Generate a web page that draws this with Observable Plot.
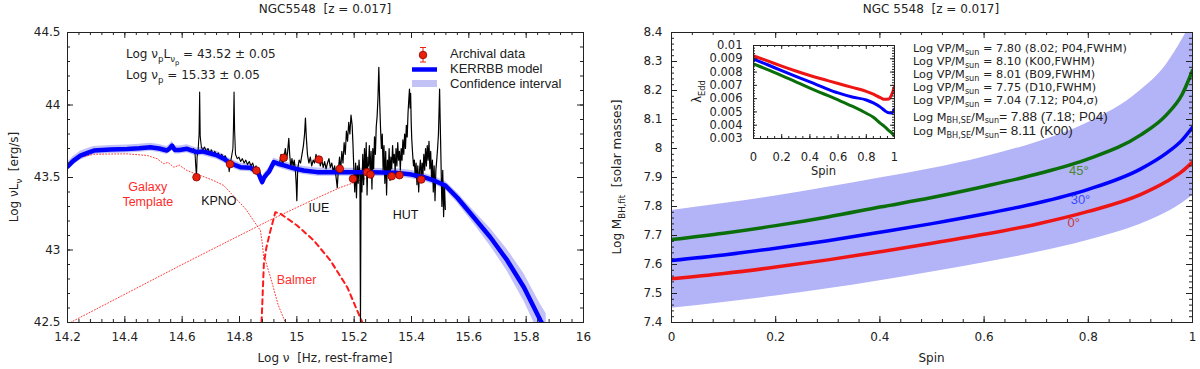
<!DOCTYPE html>
<html>
<head>
<meta charset="utf-8">
<script src="https://cdn.jsdelivr.net/npm/d3@7"></script>
<script src="https://cdn.jsdelivr.net/npm/@observablehq/plot@0.6"></script>
<style>
html,body{margin:0;padding:0;background:#fff;}
#wrap{position:relative;width:1200px;height:369px;overflow:hidden;background:#fff;}
.panel{position:absolute;top:0;}
.title{position:absolute;top:2px;font-family:"DejaVu Sans",sans-serif;font-size:12px;color:#222;white-space:pre;transform:translateX(-50%);}
svg text{white-space:pre;}
</style>
</head>
<body>
<div id="wrap"></div>
<script>
// ================= DATA =================
// Left panel: SED of NGC5548
const leftXTicks = [14.2,14.4,14.6,14.8,15,15.2,15.4,15.6,15.8,16];
const leftYTicks = [42.5,43,43.5,44,44.5];

// KERRBB model (log nu, log nuLnu) and confidence half-width
const modelV = [14.2,14.22,14.245,14.27,14.292,14.35,14.408,14.45,14.489,14.52,14.547,14.556,14.565,14.574,14.59,14.617,14.635,14.652,14.67,14.69,14.722,14.745,14.763,14.785,14.803,14.838,14.858,14.867,14.874,14.879,14.886,14.894,14.903,14.912,14.92,14.935,14.955,14.99,15.024,15.071,15.15,15.25,15.35,15.4,15.443,15.48,15.518,15.56,15.617,15.675,15.734,15.792,15.85,15.87];
const modelL = [43.575,43.615,43.651,43.67,43.686,43.693,43.697,43.702,43.709,43.70,43.686,43.70,43.72,43.69,43.69,43.698,43.685,43.675,43.68,43.67,43.652,43.63,43.606,43.585,43.571,43.567,43.545,43.526,43.49,43.468,43.50,43.52,43.54,43.575,43.606,43.595,43.583,43.563,43.548,43.537,43.536,43.536,43.532,43.52,43.502,43.478,43.445,43.36,43.226,43.088,42.928,42.743,42.514,42.44];
const modelErr = [0.03,0.03,0.03,0.03,0.028,0.028,0.028,0.028,0.028,0.028,0.028,0.028,0.028,0.028,0.028,0.028,0.028,0.028,0.028,0.028,0.028,0.028,0.028,0.028,0.028,0.028,0.028,0.028,0.028,0.028,0.028,0.028,0.028,0.028,0.028,0.028,0.028,0.028,0.028,0.028,0.028,0.028,0.028,0.028,0.028,0.028,0.03,0.035,0.045,0.06,0.075,0.095,0.11,0.12];

// Archival photometry
const archV = [14.65,14.767,14.859,14.954,15.077,15.15,15.196,15.245,15.257,15.331,15.358,15.434];
const archL = [43.502,43.592,43.548,43.636,43.624,43.56,43.491,43.537,43.521,43.509,43.516,43.486];
const archErr = [0.012,0.012,0.012,0.012,0.012,0.012,0.012,0.012,0.012,0.012,0.012,0.012];

// Galaxy template (dotted)
const galaxyTpl = [[14.2,43.57],[14.245,43.64],[14.292,43.66],[14.35,43.662],[14.408,43.663],[14.478,43.652],[14.513,43.629],[14.536,43.594],[14.55,43.605],[14.571,43.571],[14.59,43.585],[14.617,43.548],[14.64,43.53],[14.664,43.514],[14.71,43.479],[14.745,43.445],[14.785,43.36],[14.821,43.284],[14.85,43.2],[14.873,43.134],[14.879,43.054],[14.885,42.94],[14.89,42.93],[14.91,42.8],[14.935,42.62],[14.96,42.5]];
// Accretion disk power law (dotted)
const diskPL = [[14.21,42.5],[14.6,42.9],[14.9,43.2],[15.05,43.34],[15.15,43.43],[15.25,43.5]];
// Balmer continuum (dashed)
const balmer = [[14.877,42.502],[14.885,42.905],[14.894,43.019],[14.908,43.134],[14.925,43.261],[14.943,43.25],[15.001,43.169],[15.059,43.066],[15.117,42.928],[15.176,42.743],[15.228,42.502]];

// Spectra: KPNO optical, IUE, HUT
const specOptical = [[14.635,43.68],[14.64,43.70],[14.645,43.66],[14.648,43.56],[14.65,43.50],[14.652,43.64],[14.656,43.70],[14.659,43.80],[14.661,44.09],[14.663,43.78],[14.667,43.71],[14.672,43.69],[14.678,43.71],[14.684,43.68],[14.69,43.70],[14.696,43.67],[14.702,43.69],[14.708,43.66],[14.714,43.68],[14.72,43.65],[14.726,43.67],[14.732,43.64],[14.738,43.66],[14.744,43.63],[14.75,43.65],[14.756,43.62],[14.761,43.60],[14.764,43.54],[14.767,43.59],[14.772,43.64],[14.777,43.70],[14.779,43.85],[14.781,44.09],[14.783,43.82],[14.786,43.66],[14.792,43.63],[14.798,43.64],[14.804,43.61],[14.81,43.63],[14.816,43.60],[14.822,43.62],[14.828,43.59],[14.834,43.61],[14.84,43.58],[14.846,43.60],[14.852,43.56],[14.858,43.58],[14.864,43.53],[14.87,43.55],[14.876,43.50]];
const specIUE = [[14.94,43.60],[14.945,43.66],[14.95,43.58],[14.955,43.64],[14.96,43.70],[14.964,43.62],[14.968,43.68],[14.972,43.77],[14.975,43.66],[14.979,43.57],[14.983,43.63],[14.987,43.58],[14.991,43.62],[14.995,43.55],[14.998,43.45],[15.0,43.34],[15.003,43.56],[15.008,43.62],[15.013,43.60],[15.018,43.66],[15.023,43.72],[15.027,43.80],[15.03,43.91],[15.033,43.78],[15.037,43.66],[15.042,43.60],[15.047,43.64],[15.052,43.58],[15.057,43.62],[15.062,43.60],[15.067,43.66],[15.072,43.61],[15.077,43.64],[15.082,43.58],[15.087,43.62],[15.092,43.57],[15.097,43.61],[15.102,43.56],[15.107,43.60],[15.112,43.63],[15.117,43.57],[15.122,43.60],[15.127,43.54],[15.132,43.58],[15.137,43.50],[15.141,43.43],[15.145,43.56],[15.149,43.64],[15.153,43.55],[15.157,43.68],[15.161,43.60],[15.165,43.74],[15.169,43.66],[15.173,43.82],[15.177,43.75],[15.181,43.88],[15.185,43.80],[15.189,43.93],[15.193,43.86],[15.196,43.72],[15.199,43.55],[15.202,43.40],[15.205,43.60],[15.208,43.36],[15.211,43.58],[15.214,43.46],[15.217,43.62],[15.22,43.50],[15.222,42.50],[15.224,43.55],[15.227,43.40],[15.23,43.66],[15.233,43.45],[15.236,43.70],[15.239,43.52],[15.242,43.74],[15.245,43.38],[15.248,43.64]];
const specHUT = [[15.25,43.58],[15.253,43.72],[15.256,43.50],[15.259,43.68],[15.262,43.42],[15.265,43.70],[15.268,43.56],[15.271,43.78],[15.274,43.66],[15.277,43.85],[15.28,43.92],[15.283,44.05],[15.286,44.26],[15.289,44.02],[15.292,43.84],[15.295,43.70],[15.298,43.80],[15.301,43.55],[15.304,43.72],[15.307,43.46],[15.31,43.68],[15.313,43.38],[15.316,43.62],[15.319,43.52],[15.322,43.70],[15.325,43.48],[15.328,43.64],[15.331,43.56],[15.334,43.72],[15.337,43.60],[15.34,43.66],[15.343,43.54],[15.346,43.70],[15.349,43.58],[15.352,43.74],[15.355,43.62],[15.358,43.68],[15.361,43.55],[15.364,43.70],[15.367,43.62],[15.37,43.76],[15.373,43.66],[15.376,43.80],[15.379,43.70],[15.382,43.86],[15.385,43.78],[15.388,43.95],[15.391,44.05],[15.393,44.11],[15.395,43.98],[15.397,44.08],[15.399,43.88],[15.401,43.76],[15.404,43.66],[15.407,43.58],[15.41,43.62],[15.413,43.50],[15.416,43.60],[15.419,43.45],[15.422,43.58],[15.425,43.40],[15.428,43.55],[15.431,43.62],[15.434,43.48],[15.437,43.60],[15.44,43.52],[15.443,43.66],[15.446,43.55],[15.449,43.70],[15.452,43.58],[15.455,43.72],[15.458,43.62],[15.461,43.75],[15.464,43.56],[15.467,43.68],[15.47,43.48],[15.473,43.62],[15.476,43.40],[15.479,43.58],[15.482,43.34],[15.485,43.55],[15.488,43.62],[15.491,43.70],[15.494,43.80],[15.496,43.95],[15.498,44.11],[15.5,43.90],[15.503,43.60],[15.506,43.30],[15.509,43.55],[15.512,43.23],[15.515,43.45],[15.518,43.28]];

const leftLabels = [
  {text: "Galaxy\nTemplate", v: 14.48, L: 43.39, color: "#ff2a2a"},
  {text: "KPNO", v: 14.728, L: 43.346, color: "#111"},
  {text: "IUE", v: 15.077, L: 43.295, color: "#111"},
  {text: "HUT", v: 15.379, L: 43.25, color: "#111"},
  {text: "Balmer", v: 14.999, L: 42.801, color: "#ff3030"}
];

// Right panel: black-hole mass vs spin
const rightXTicks = [0,0.2,0.4,0.6,0.8,1];
const rightYTicks = [7.4,7.5,7.6,7.7,7.8,7.9,8,8.1,8.2,8.3,8.4];
const spinGrid = [0,0.1,0.2,0.3,0.4,0.5,0.6,0.7,0.8,0.9,0.95,0.98,1];
const mass0 = [7.551,7.569,7.591,7.616,7.644,7.673,7.704,7.739,7.783,7.841,7.886,7.921,7.953];
const mass30 = [7.614,7.633,7.656,7.682,7.711,7.741,7.774,7.811,7.859,7.929,7.984,8.029,8.073];
const mass45 = [7.686,7.708,7.734,7.764,7.798,7.831,7.869,7.911,7.964,8.046,8.116,8.186,8.269];
const massLo = [7.449,7.469,7.491,7.516,7.544,7.574,7.606,7.641,7.684,7.739,7.779,7.811,7.838];
const massHi = [7.786,7.81,7.836,7.866,7.898,7.931,7.971,8.021,8.09,8.2,8.29,8.375,8.44];
const angleLabels = [
  {text: "45°", s: 0.782, m: 7.922, color: "#4a8a2a"},
  {text: "30°", s: 0.785, m: 7.822, color: "#3b4bff"},
  {text: "0°",  s: 0.772, m: 7.742, color: "#c83434"}
];
const vpLines = [" = 7.80 (8.02; P04,FWHM)", " = 8.10 (K00,FWHM)", " = 8.01 (B09,FWHM)", " = 7.75 (D10,FWHM)", " = 7.04 (7.12; P04,σ)"];
const seLines = ["= 7.88 (7.18; P04)", "= 8.11 (K00)"];

// Inset: Eddington ratio vs spin
const insetXTicks = [0,0.2,0.4,0.6,0.8,1];
const insetYTicks = [0.003,0.004,0.005,0.006,0.007,0.008,0.009,0.01];
const insetSpin = [0,0.1,0.2,0.3,0.4,0.5,0.6,0.7,0.8,0.85,0.9,0.93,0.96,0.98,1];
const edd0 = [0.00922,0.00884,0.00845,0.00808,0.00774,0.00744,0.00714,0.00685,0.00655,0.00634,0.00607,0.00595,0.00598,0.0063,0.0069];
const edd30 = [0.00898,0.00855,0.0081,0.00767,0.00726,0.00683,0.00643,0.00612,0.0059,0.00568,0.00536,0.0051,0.00493,0.00492,0.0052];
const edd45 = [0.00862,0.00818,0.00774,0.00727,0.0068,0.00635,0.0059,0.00543,0.0049,0.0046,0.00414,0.0039,0.0036,0.00343,0.0032];

// ================= HELPERS =================
const fmt = d => String(+(+d).toFixed(6));
const steps = (a, b, s) => d3.range(Math.round((b - a) / s) + 1).map(i => +(a + i * s).toFixed(6));
const INK = "#222";
function frameTicks(xs, ys, FW, FH, len) {
  return [
    Plot.tickX(xs, {x: d => d, insetTop: FH - len, stroke: INK}),
    Plot.tickX(xs, {x: d => d, insetBottom: FH - len, stroke: INK}),
    Plot.tickY(ys, {y: d => d, insetRight: FW - len, stroke: INK}),
    Plot.tickY(ys, {y: d => d, insetLeft: FW - len, stroke: INK})
  ];
}
function rich(svg, x, y, segs, o = {}) {
  const size = o.size || 12, family = o.family || "DejaVu Sans";
  const subShift = o.subShift != null ? o.subShift : 0.32;
  const t = svg.append("text").attr("font-family", family).attr("font-size", size)
    .attr("fill", o.fill || INK).attr("text-anchor", o.anchor || "start");
  if (o.rotate != null) t.attr("transform", `translate(${x},${y}) rotate(${o.rotate})`);
  else t.attr("x", x).attr("y", y);
  let prev = 0;
  for (const seg of segs) {
    const [s, lvl = 0, sz, fam] = Array.isArray(seg) ? seg : [seg, 0];
    const shift = lvl === 0 ? 0 : lvl === 1 ? size * subShift : size * 0.55;
    const fs = sz || (lvl === 0 ? size : lvl === 1 ? size * 0.72 : size * 0.56);
    const ts = t.append("tspan").attr("dy", shift - prev).attr("font-size", fs).text(s);
    if (fam) ts.attr("font-family", fam);
    prev = shift;
  }
  return t;
}

const wrap = d3.select("#wrap");

// ================= LEFT PANEL =================
const modelRows = modelV.map((v, i) => ({v, L: modelL[i], lo: modelL[i] - modelErr[i], hi: modelL[i] + modelErr[i]}));
const archRows = archV.map((v, i) => ({v, L: archL[i], e: archErr[i]}));
const LFW = 516, LFH = 290;

const left = Plot.plot({
  width: 600, height: 369,
  marginLeft: 67, marginRight: 17, marginTop: 32, marginBottom: 47,
  style: {fontFamily: "DejaVu Sans", fontSize: "12px", color: INK, background: "transparent", overflow: "visible"},
  x: {domain: [14.2, 16], ticks: leftXTicks, tickSize: 0, tickPadding: 10, tickFormat: fmt, label: null},
  y: {domain: [42.5, 44.5], ticks: leftYTicks, tickSize: 0, tickPadding: 7, tickFormat: fmt, label: null},
  marks: [
    Plot.areaY(modelRows, {x: "v", y1: "lo", y2: "hi", fill: "#c2c2f7", clip: true}),
    Plot.line(galaxyTpl, {x: d => d[0], y: d => d[1], stroke: "#ff3b3b", strokeWidth: 1, strokeDasharray: "1 2", clip: true}),
    Plot.line(diskPL, {x: d => d[0], y: d => d[1], stroke: "#ff3b3b", strokeWidth: 1, strokeDasharray: "1 2", clip: true}),
    Plot.line(balmer, {x: d => d[0], y: d => d[1], stroke: "#ff1a1a", strokeWidth: 2, strokeDasharray: "5 4", clip: true}),
    Plot.line(specOptical, {x: d => d[0], y: d => d[1], stroke: "#000", strokeWidth: 1.1}),
    Plot.line(specIUE, {x: d => d[0], y: d => d[1], stroke: "#000", strokeWidth: 1.2}),
    Plot.line(specHUT, {x: d => d[0], y: d => d[1], stroke: "#000", strokeWidth: 1.2}),
    Plot.line(modelRows, {x: "v", y: "L", stroke: "#0000ff", strokeWidth: 4.5, clip: true}),
    Plot.ruleX(archRows, {x: "v", y1: d => d.L - d.e, y2: d => d.L + d.e, stroke: "#e8210d"}),
    Plot.dot(archRows, {x: "v", y: "L", r: 3.8, fill: "#e8210d", stroke: "#8a0000", strokeWidth: 0.8}),
    Plot.text(leftLabels, {x: "v", y: "L", text: "text", fill: "color", fontFamily: "Liberation Sans", fontSize: 12.5, lineHeight: 1.25, textAnchor: "middle"}),
    ...frameTicks(leftXTicks, leftYTicks, LFW, LFH, 6),
    ...frameTicks(steps(14.2, 16, 0.04), steps(42.5, 44.5, 0.1), LFW, LFH, 3),
    Plot.frame({stroke: INK})
  ]
});
left.classList.add("panel");
left.style.left = "0px";
wrap.node().appendChild(left);
{
  const s = d3.select(left), X = left.scale("x"), Y = left.scale("y");
  rich(s, X.apply(14.406), Y.apply(44.321), ["Log ν", ["p", 1], "L", ["ν", 1], ["p", 2], " = 43.52 ± 0.05"], {size: 12});
  rich(s, X.apply(14.406), Y.apply(44.176), ["Log ν", ["p", 1], " = 15.33 ± 0.05"], {size: 12});
  // axis titles
  rich(s, (X.apply(14.2) + X.apply(16)) / 2, 362, ["Log ν  [Hz, rest-frame]"], {anchor: "middle"});
  rich(s, 18, (Y.apply(42.5) + Y.apply(44.5)) / 2, ["Log νL", ["ν", 1], "  [erg/s]"], {anchor: "middle", rotate: -90});
  // legend
  const g = s.append("g");
  g.append("line").attr("x1", 423).attr("x2", 423).attr("y1", 47.5).attr("y2", 62).attr("stroke", "#e8210d");
  g.append("line").attr("x1", 420).attr("x2", 426).attr("y1", 47.5).attr("y2", 47.5).attr("stroke", "#e8210d");
  g.append("line").attr("x1", 420).attr("x2", 426).attr("y1", 62).attr("y2", 62).attr("stroke", "#e8210d");
  g.append("circle").attr("cx", 423).attr("cy", 55).attr("r", 3.8).attr("fill", "#e8210d").attr("stroke", "#8a0000").attr("stroke-width", 0.8);
  g.append("line").attr("x1", 412).attr("x2", 437).attr("y1", 69.5).attr("y2", 69.5).attr("stroke", "#0000ff").attr("stroke-width", 4.5);
  g.append("rect").attr("x", 412).attr("y", 80).attr("width", 25).attr("height", 7).attr("fill", "#c2c2f7");
  rich(g, 450, 57.8, ["Archival data"], {family: "Liberation Sans", size: 13});
  rich(g, 450, 72.8, ["KERRBB model"], {family: "Liberation Sans", size: 13});
  rich(g, 450, 87.5, ["Confidence interval"], {family: "Liberation Sans", size: 13});
}
wrap.append("div").attr("class", "title").style("left", "325px").text("NGC5548  [z = 0.017]");

// ================= RIGHT PANEL =================
const rightRows = spinGrid.map((s, i) => ({s, r: mass0[i], b: mass30[i], g: mass45[i], lo: massLo[i], hi: massHi[i]}));
const RFW = 521, RFH = 290;
const right = Plot.plot({
  width: 600, height: 369,
  marginLeft: 71, marginRight: 8, marginTop: 32, marginBottom: 47,
  style: {fontFamily: "DejaVu Sans", fontSize: "12px", color: INK, background: "transparent", overflow: "visible"},
  x: {domain: [0, 1], ticks: rightXTicks, tickSize: 0, tickPadding: 10, tickFormat: fmt, label: null},
  y: {domain: [7.4, 8.4], ticks: rightYTicks, tickSize: 0, tickPadding: 9, tickFormat: fmt, label: null},
  marks: [
    Plot.areaY(rightRows, {x: "s", y1: "lo", y2: "hi", fill: "#b3b3f8", curve: "monotone-x", clip: true}),
    Plot.line(rightRows, {x: "s", y: "r", stroke: "#ee1515", strokeWidth: 3.5, curve: "monotone-x", clip: true}),
    Plot.line(rightRows, {x: "s", y: "b", stroke: "#0000ff", strokeWidth: 3.5, curve: "monotone-x", clip: true}),
    Plot.line(rightRows, {x: "s", y: "g", stroke: "#0a6e0a", strokeWidth: 3.5, curve: "monotone-x", clip: true}),
    Plot.text(angleLabels, {x: "s", y: "m", text: "text", fill: "color", fontFamily: "Liberation Sans", fontSize: 13}),
    ...frameTicks(rightXTicks, rightYTicks, RFW, RFH, 6),
    ...frameTicks(steps(0, 1, 0.04), steps(7.4, 8.4, 0.02), RFW, RFH, 3),
    Plot.frame({stroke: INK})
  ]
});
right.classList.add("panel");
right.style.left = "600px";
wrap.node().appendChild(right);
{
  const s = d3.select(right), X = right.scale("x"), Y = right.scale("y");
  const bx = X.apply(0.4645), top = Y.apply(8.4);
  const off = [20, 33, 46, 59, 72];
  vpLines.forEach((t, i) => rich(s, bx, top + off[i], ["Log VP/M", ["sun", 1], t], {size: 11.3, subShift: 0.25}));
  seLines.forEach((t, i) => rich(s, bx, top + [88.5, 103][i], ["Log M", ["BH,SE", 1], "/M", ["sun", 1], [t, 0, 13.5, "Liberation Sans"]], {size: 11.3, subShift: 0.25}));
  rich(s, (X.apply(0) + X.apply(1)) / 2, 362, ["Spin"], {anchor: "middle"});
  rich(s, 21, (Y.apply(7.4) + Y.apply(8.4)) / 2, ["Log M", ["BH,fit", 1], "  [solar masses]"], {anchor: "middle", rotate: -90});
}
wrap.append("div").attr("class", "title").style("left", "931px").text("NGC 5548  [z = 0.017]");

// ================= INSET =================
const insetRows = insetSpin.map((s, i) => ({s, r: edd0[i], b: edd30[i], g: edd45[i]}));
const IFW = 141, IFH = 93;
const inset = Plot.plot({
  width: 214, height: 142,
  marginLeft: 63, marginRight: 10, marginTop: 9, marginBottom: 40,
  style: {fontFamily: "DejaVu Sans", fontSize: "11.5px", color: INK, background: "transparent", overflow: "visible"},
  x: {domain: [0, 1], ticks: insetXTicks, tickSize: 0, tickPadding: 14, tickFormat: fmt, label: null},
  y: {domain: [0.003, 0.01], ticks: insetYTicks, tickSize: 0, tickPadding: 11, tickFormat: fmt, label: null},
  marks: [
    Plot.line(insetRows, {x: "s", y: "r", stroke: "#ee1515", strokeWidth: 3, curve: "monotone-x", clip: true}),
    Plot.line(insetRows, {x: "s", y: "b", stroke: "#0000ff", strokeWidth: 3, curve: "monotone-x", clip: true}),
    Plot.line(insetRows, {x: "s", y: "g", stroke: "#0a6e0a", strokeWidth: 3, curve: "monotone-x", clip: true}),
    ...frameTicks(insetXTicks, insetYTicks, IFW, IFH, 4),
    ...frameTicks(steps(0, 1, 0.05), steps(0.003, 0.01, 0.0002), IFW, IFH, 2),
    Plot.frame({stroke: INK})
  ]
});
inset.classList.add("panel");
inset.style.left = "690px";
inset.style.top = "36px";
wrap.node().appendChild(inset);
{
  const s = d3.select(inset), X = inset.scale("x"), Y = inset.scale("y");
  rich(s, (X.apply(0) + X.apply(1)) / 2, 139, ["Spin"], {anchor: "middle", size: 11.5});
  rich(s, 11, (Y.apply(0.003) + Y.apply(0.01)) / 2, ["λ", ["Edd", 1]], {anchor: "middle", rotate: -90, size: 11.5});
}
</script>
</body>
</html>
